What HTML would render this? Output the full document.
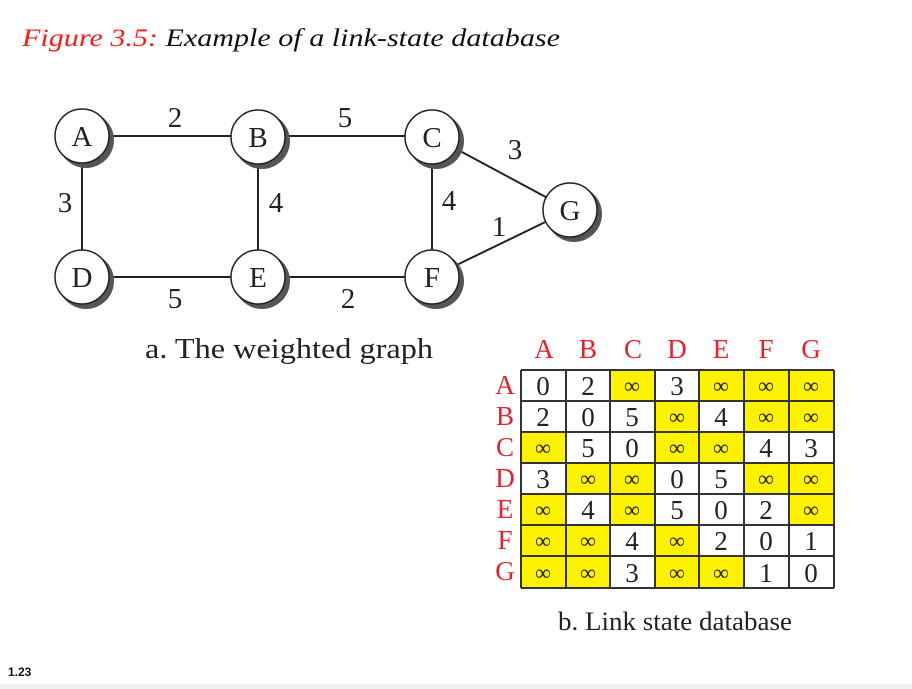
<!DOCTYPE html>
<html><head><meta charset="utf-8"><style>
html,body{margin:0;padding:0;background:#fff;}
svg{display:block;}
</style></head><body>
<svg width="912" height="689" xmlns="http://www.w3.org/2000/svg" font-family="Liberation Serif, serif">
<rect x="0" y="684" width="912" height="5" fill="#f0f0f0"/>
<text x="22" y="46" font-size="25" font-style="italic" textLength="538" lengthAdjust="spacingAndGlyphs"><tspan fill="#ff1a1a">Figure 3.5:</tspan> <tspan fill="#111">Example of a link-state database</tspan></text>
<text x="8" y="676" font-family="Liberation Sans, sans-serif" font-size="12" font-weight="bold" fill="#111">1.23</text>
<g stroke="#222" stroke-width="2">
<line x1="82" y1="136" x2="258" y2="136"/><line x1="258" y1="136" x2="432" y2="136"/>
<line x1="82" y1="136" x2="82" y2="277"/><line x1="258" y1="136" x2="258" y2="277"/><line x1="432" y1="136" x2="432" y2="277"/>
<line x1="82" y1="277" x2="258" y2="277"/><line x1="258" y1="277" x2="432" y2="277"/>
<line x1="432" y1="136" x2="570" y2="210"/><line x1="432" y1="277" x2="570" y2="210"/>
</g>
<g font-size="29" text-anchor="middle" fill="#222">
<circle cx="86" cy="140" r="28" fill="#555"/><circle cx="82" cy="136" r="27" fill="#fff" stroke="#222" stroke-width="1.5"/><text x="82" y="146">A</text>
<circle cx="262" cy="141" r="28" fill="#555"/><circle cx="258" cy="137" r="27" fill="#fff" stroke="#222" stroke-width="1.5"/><text x="258" y="147">B</text>
<circle cx="436" cy="141" r="28" fill="#555"/><circle cx="432" cy="137" r="27" fill="#fff" stroke="#222" stroke-width="1.5"/><text x="432" y="147">C</text>
<circle cx="86" cy="281" r="28" fill="#555"/><circle cx="82" cy="277" r="27" fill="#fff" stroke="#222" stroke-width="1.5"/><text x="82" y="287">D</text>
<circle cx="262" cy="281" r="28" fill="#555"/><circle cx="258" cy="277" r="27" fill="#fff" stroke="#222" stroke-width="1.5"/><text x="258" y="287">E</text>
<circle cx="436" cy="281" r="28" fill="#555"/><circle cx="432" cy="277" r="27" fill="#fff" stroke="#222" stroke-width="1.5"/><text x="432" y="287">F</text>
<circle cx="574" cy="214" r="28" fill="#555"/><circle cx="570" cy="210" r="27" fill="#fff" stroke="#222" stroke-width="1.5"/><text x="570" y="220">G</text>
<text x="175" y="127">2</text><text x="345" y="127">5</text>
<text x="65" y="212">3</text><text x="276" y="212">4</text><text x="449" y="210">4</text>
<text x="515" y="159">3</text><text x="499" y="236">1</text>
<text x="175" y="308">5</text><text x="348" y="308">2</text>
<text x="289" y="358" textLength="288" lengthAdjust="spacingAndGlyphs">a. The weighted graph</text>
<text x="675" y="630" font-size="26" textLength="234" lengthAdjust="spacingAndGlyphs">b. Link state database</text>
</g>
<g font-size="27" fill="#e8202a" text-anchor="middle">
<text x="544" y="358">A</text><text x="588" y="358">B</text><text x="633" y="358">C</text><text x="677" y="358">D</text><text x="721" y="358">E</text><text x="766" y="358">F</text><text x="811" y="358">G</text>
<text x="505" y="394">A</text><text x="505" y="425">B</text><text x="505" y="456">C</text><text x="505" y="487">D</text><text x="505" y="518">E</text><text x="505" y="549">F</text><text x="505" y="580">G</text>
</g>
<!-- yellow cells -->
<g fill="#fff200">
<rect x="610" y="370" width="45" height="31"/><rect x="699" y="370" width="45" height="31"/><rect x="744" y="370" width="45" height="31"/><rect x="789" y="370" width="45" height="31"/>
<rect x="655" y="401" width="44" height="31"/><rect x="744" y="401" width="45" height="31"/><rect x="789" y="401" width="45" height="31"/>
<rect x="521" y="432" width="45" height="31"/><rect x="655" y="432" width="44" height="31"/><rect x="699" y="432" width="45" height="31"/>
<rect x="566" y="463" width="44" height="31"/><rect x="610" y="463" width="45" height="31"/><rect x="744" y="463" width="45" height="31"/><rect x="789" y="463" width="45" height="31"/>
<rect x="521" y="494" width="45" height="31"/><rect x="610" y="494" width="45" height="31"/><rect x="789" y="494" width="45" height="31"/>
<rect x="521" y="525" width="45" height="31"/><rect x="566" y="525" width="44" height="31"/><rect x="655" y="525" width="44" height="31"/>
<rect x="521" y="556" width="45" height="32"/><rect x="566" y="556" width="44" height="32"/><rect x="655" y="556" width="44" height="32"/><rect x="699" y="556" width="45" height="32"/>
</g>
<g stroke="#333" stroke-width="2">
<line x1="521" y1="370" x2="834" y2="370"/><line x1="521" y1="401" x2="834" y2="401"/><line x1="521" y1="432" x2="834" y2="432"/><line x1="521" y1="463" x2="834" y2="463"/><line x1="521" y1="494" x2="834" y2="494"/><line x1="521" y1="525" x2="834" y2="525"/><line x1="521" y1="556" x2="834" y2="556"/><line x1="521" y1="588" x2="834" y2="588"/>
<line x1="521" y1="370" x2="521" y2="588"/><line x1="566" y1="370" x2="566" y2="588"/><line x1="610" y1="370" x2="610" y2="588"/><line x1="655" y1="370" x2="655" y2="588"/><line x1="699" y1="370" x2="699" y2="588"/><line x1="744" y1="370" x2="744" y2="588"/><line x1="789" y1="370" x2="789" y2="588"/><line x1="834" y1="370" x2="834" y2="588"/>
</g>
<g font-size="27" text-anchor="middle" fill="#222">
<text x="543" y="395">0</text><text x="588" y="395">2</text><text x="677" y="395">3</text>
<text x="543" y="426">2</text><text x="588" y="426">0</text><text x="632" y="426">5</text><text x="721" y="426">4</text>
<text x="588" y="457">5</text><text x="632" y="457">0</text><text x="766" y="457">4</text><text x="811" y="457">3</text>
<text x="543" y="488">3</text><text x="677" y="488">0</text><text x="721" y="488">5</text>
<text x="588" y="519">4</text><text x="677" y="519">5</text><text x="721" y="519">0</text><text x="766" y="519">2</text>
<text x="632" y="550">4</text><text x="721" y="550">2</text><text x="766" y="550">0</text><text x="811" y="550">1</text>
<text x="632" y="582">3</text><text x="766" y="582">1</text><text x="811" y="582">0</text>
</g>
<g font-size="22" text-anchor="middle" fill="#222">
<text x="632" y="393">∞</text><text x="721" y="393">∞</text><text x="766" y="393">∞</text><text x="811" y="393">∞</text>
<text x="677" y="424">∞</text><text x="766" y="424">∞</text><text x="811" y="424">∞</text>
<text x="543" y="455">∞</text><text x="677" y="455">∞</text><text x="721" y="455">∞</text>
<text x="588" y="486">∞</text><text x="632" y="486">∞</text><text x="766" y="486">∞</text><text x="811" y="486">∞</text>
<text x="543" y="517">∞</text><text x="632" y="517">∞</text><text x="811" y="517">∞</text>
<text x="543" y="548">∞</text><text x="588" y="548">∞</text><text x="677" y="548">∞</text>
<text x="543" y="580">∞</text><text x="588" y="580">∞</text><text x="677" y="580">∞</text><text x="721" y="580">∞</text>
</g>
</svg>
</body></html>
